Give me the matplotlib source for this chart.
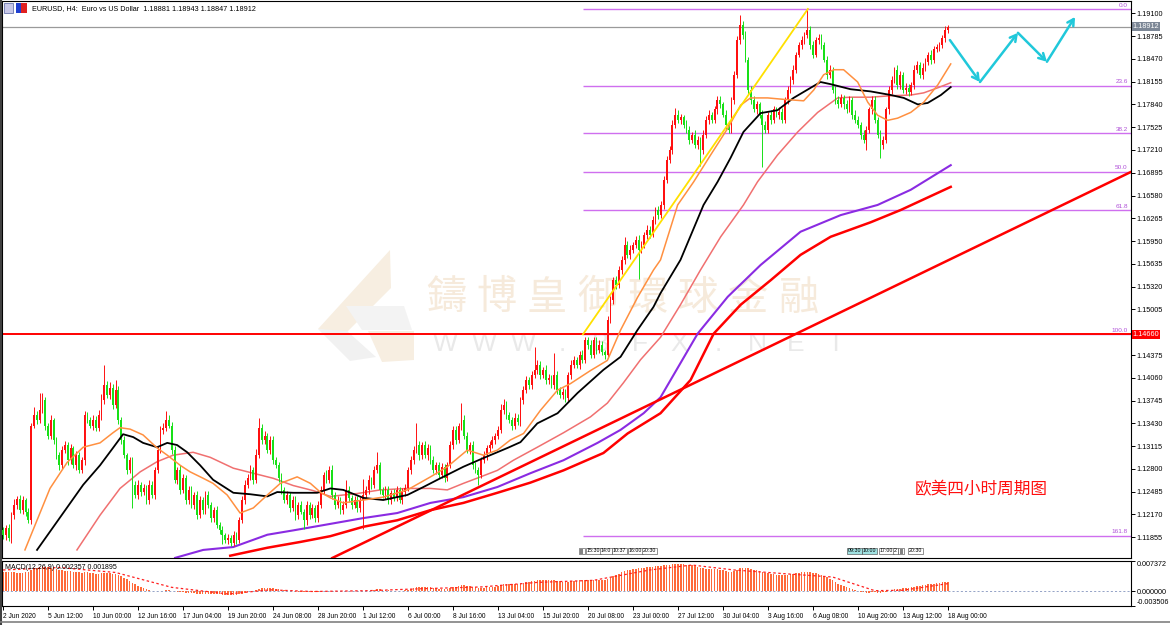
import matplotlib
matplotlib.use("Agg")
import matplotlib.pyplot as plt
import numpy as np
from matplotlib.patches import Polygon, Rectangle

# ---- price data (units of 0.0001 above 1.1000), one value per H4 bar ----
first_open = 195
closes = [
    188, 198, 185, 216, 230, 239, 223, 237, 221, 209,
    340, 354, 348, 362, 375, 340, 326, 348, 320, 299,
    285, 306, 313, 292, 309, 285, 299, 279, 292, 354,
    348, 340, 348, 337, 354, 375, 396, 382, 392, 368,
    389, 348, 320, 299, 279, 292, 258, 244, 258, 248,
    254, 237, 258, 244, 279, 306, 334, 337, 348, 340,
    306, 265, 279, 251, 268, 237, 251, 230, 244, 216,
    237, 223, 244, 230, 212, 223, 202, 196, 188, 182,
    185, 178, 188, 182, 209, 237, 258, 268, 279, 265,
    299, 337, 320, 326, 306, 320, 292, 285, 268, 251,
    237, 244, 226, 237, 216, 230, 221, 209, 230, 216,
    226, 212, 230, 251, 272, 265, 279, 244, 230, 237,
    223, 230, 251, 240, 230, 237, 226, 237, 244, 251,
    265, 258, 279, 285, 251, 244, 251, 237, 247, 240,
    251, 237, 248, 254, 279, 292, 306, 313, 299, 313,
    299, 309, 292, 279, 285, 272, 282, 268, 285, 313,
    334, 320, 340, 348, 326, 306, 313, 285, 279, 272,
    292, 299, 309, 313, 320, 326, 334, 362, 368, 354,
    348, 340, 351, 345, 375, 389, 403, 396, 410, 417,
    424, 410, 417, 403, 406, 396, 410, 389, 382, 386,
    378, 410, 424, 431, 424, 438, 431, 458, 452, 438,
    458, 445, 452, 441, 438, 486, 514, 541, 534, 555,
    569, 590, 576, 583, 590, 597, 583, 590, 604, 611,
    604, 624, 638, 631, 645, 680, 707, 721, 756, 770,
    763, 766, 756, 749, 735, 742, 728, 735, 721, 742,
    763, 770, 763, 777, 790, 784, 770, 756, 749, 790,
    825, 873, 894, 880, 846, 804, 790, 777, 784, 770,
    756, 749, 770, 763, 777, 770, 774, 763, 790, 804,
    818, 832, 853, 866, 873, 880, 887, 866, 853, 873,
    876, 866, 846, 825, 832, 804, 790, 784, 793, 784,
    777, 790, 770, 763, 756, 742, 735, 749, 777, 790,
    763, 742, 728, 735, 777, 804, 818, 832, 811, 825,
    804, 807, 801, 811, 832, 839, 825, 835, 843, 853,
    846, 860, 863, 866, 876, 887, 891,
]
# wick lengths in pips
up_wick = [
    5, 4, 6, 5, 8, 4, 5, 6, 3, 5, 4, 12, 6, 23, 10, 5, 4, 6, 3, 4,
    4, 5, 6, 4, 5, 3, 6, 4, 5, 6, 5, 4, 6, 5, 7, 8, 28, 6, 8, 5,
    14, 5, 4, 6, 3, 5, 4, 5, 6, 4, 5, 4, 6, 5, 4, 6, 5, 7, 12, 6,
    5, 6, 4, 7, 5, 4, 6, 5, 4, 6, 5, 4, 6, 5, 4, 5, 6, 4, 5, 4,
    5, 4, 6, 5, 4, 6, 7, 5, 6, 4, 8, 14, 5, 6, 4, 5, 6, 4, 5, 6,
    4, 5, 4, 6, 5, 4, 5, 3, 6, 4, 5, 4, 6, 5, 4, 6, 5, 7, 4, 5,
    4, 6, 14, 5, 4, 6, 5, 4, 22, 5, 6, 4, 5, 18, 5, 4, 6, 5, 4, 5,
    5, 4, 6, 5, 4, 6, 5, 30, 5, 4, 6, 5, 4, 6, 5, 4, 6, 5, 4, 6,
    5, 6, 4, 23, 6, 5, 4, 6, 5, 4, 5, 6, 4, 5, 6, 4, 5, 8, 8, 6,
    5, 4, 6, 5, 4, 5, 6, 4, 5, 32, 6, 5, 4, 6, 5, 4, 30, 5, 4, 6,
    5, 4, 6, 5, 4, 5, 6, 4, 5, 6, 5, 4, 6, 5, 4, 6, 5, 4, 6, 5,
    6, 11, 5, 6, 4, 5, 6, 5, 4, 6, 5, 6, 4, 5, 6, 5, 6, 5, 7, 9,
    6, 5, 4, 6, 5, 4, 6, 5, 4, 6, 5, 6, 4, 5, 6, 5, 4, 6, 5, 4,
    5, 6, 14, 5, 6, 4, 5, 6, 5, 4, 6, 5, 4, 6, 5, 4, 6, 5, 4, 6,
    5, 6, 4, 5, 6, 4, 28, 5, 6, 4, 5, 6, 4, 5, 6, 4, 5, 6, 5, 4,
    6, 5, 4, 6, 5, 4, 6, 5, 4, 6, 5, 4, 6, 5, 4, 6, 5, 4, 6, 5,
    4, 6, 5, 4, 6, 5, 4, 6, 5, 4, 6, 5, 4, 5, 4, 5, 3,
]
dn_wick = [
    5, 6, 4, 7, 5, 6, 4, 5, 6, 4, 5, 4, 6, 5, 4, 6, 5, 4, 6, 5,
    6, 5, 4, 6, 5, 4, 6, 5, 4, 6, 5, 4, 6, 5, 4, 6, 5, 4, 6, 5,
    4, 6, 5, 4, 6, 5, 32, 4, 6, 5, 4, 6, 5, 4, 6, 5, 4, 6, 5, 4,
    5, 4, 6, 5, 4, 6, 5, 4, 6, 5, 4, 6, 5, 4, 6, 5, 4, 6, 12, 5,
    6, 5, 4, 6, 5, 4, 6, 5, 4, 6, 5, 4, 6, 5, 4, 6, 5, 4, 6, 5,
    4, 6, 5, 4, 6, 5, 4, 12, 6, 5, 4, 6, 5, 4, 6, 5, 4, 6, 5, 4,
    6, 5, 4, 6, 5, 4, 6, 5, 40, 4, 5, 6, 4, 5, 6, 4, 5, 6, 5, 4,
    5, 4, 6, 5, 4, 6, 5, 4, 6, 5, 4, 6, 5, 4, 6, 5, 4, 6, 5, 4,
    6, 5, 4, 6, 5, 4, 6, 5, 4, 14, 5, 4, 6, 5, 4, 6, 5, 4, 6, 5,
    4, 6, 5, 4, 6, 5, 4, 6, 5, 4, 6, 5, 4, 6, 5, 4, 6, 5, 4, 6,
    5, 4, 6, 5, 4, 6, 5, 4, 6, 5, 4, 6, 5, 4, 6, 5, 4, 6, 5, 4,
    6, 5, 4, 6, 5, 4, 40, 5, 4, 6, 5, 4, 6, 5, 4, 6, 5, 4, 6, 5,
    4, 6, 5, 4, 6, 5, 4, 6, 22, 5, 4, 6, 5, 4, 6, 5, 4, 6, 5, 4,
    5, 4, 6, 5, 4, 6, 5, 4, 6, 5, 58, 5, 4, 6, 5, 4, 6, 5, 4, 6,
    4, 6, 5, 4, 6, 5, 4, 6, 5, 4, 6, 5, 4, 6, 5, 4, 6, 5, 4, 6,
    5, 4, 6, 5, 4, 6, 5, 14, 4, 6, 5, 4, 18, 5, 4, 6, 5, 4, 6, 5,
    4, 6, 5, 4, 6, 5, 4, 6, 5, 4, 6, 5, 4, 5, 4, 5, 4,
]

# moving averages: (bar, pips above 1.1000)
ma_black_x = [12.1, 28.5, 34.5, 39.1, 42.7, 46.3, 49.8, 54.8, 58.4, 61.9, 65.5, 70.1, 74.7, 81.9, 87.9,
              94.0, 97.5, 103.2, 111.7, 116.4, 121.0, 128.1, 135.2, 143.8, 149.5, 155.5, 163.7, 170.8,
              179.4, 184.0, 190.0, 197.2, 204.3, 213.5, 219.6, 225.6, 231.3, 233.8, 240.9, 249.1, 254.1,
              258.7, 263.3, 269.4, 275.4, 281.1, 287.2, 290.7, 294.3, 301.4, 308.5, 315.7, 320.3, 325.3,
              328.8, 333.5, 337.0]
ma_black_y = [168, 258, 285, 309, 328, 324, 316, 310, 316, 313, 303, 285, 265, 247, 245,
              242, 248, 247, 247, 253, 251, 240, 237, 244, 255, 267, 283, 295,
              309, 317, 343, 357, 385, 417, 435, 472, 504, 523, 569, 645, 677,
              710, 746, 772, 776, 793, 807, 815, 812, 805, 802, 797, 793, 784,
              786, 797, 808]
ma_orange_x = [7.8, 16.7, 22.8, 28.5, 34.5, 39.1, 41.6, 45.2, 49.8, 54.8, 58.4, 63.0, 66.5, 71.2, 74.7,
               79.7, 84.3, 89.0, 94.0, 98.6, 104.6, 109.3, 112.8, 116.4, 121.0, 128.1, 135.2, 143.8,
               152.0, 158.0, 165.1, 170.8, 175.8, 180.4, 185.1, 191.1, 197.2, 201.8, 208.9, 214.9,
               219.6, 225.6, 231.3, 233.8, 239.9, 245.6, 251.6, 257.7, 262.3, 265.8, 271.9, 277.6,
               284.7, 288.3, 291.8, 295.4, 298.9, 303.9, 307.5, 311.0, 314.6, 318.1, 322.8, 327.4,
               332.4, 337.0]
ma_orange_y = [168, 253, 289, 310, 316, 330, 337, 335, 327, 309, 299, 285, 276, 267, 260,
               244, 219, 226, 244, 260, 269, 260, 248, 240, 233, 237, 241, 251,
               269, 283, 306, 299, 306, 320, 329, 361, 389, 398, 416, 430,
               472, 517, 555, 569, 645, 677, 714, 751, 783, 793, 793, 791,
               789, 804, 825, 832, 832, 815, 787, 769, 762, 765, 773, 787,
               811, 840]
ma_salmon_x = [26.3, 34.5, 41.6, 48.8, 54.8, 60.5, 67.6, 73.7, 81.9, 89.0, 96.1, 103.2, 110.3, 116.4,
               126.0, 134.2, 143.8, 152.0, 158.0, 163.7, 169.8, 175.8, 181.5, 190.0, 199.3, 208.9,
               214.9, 220.6, 226.7, 233.8, 240.9, 248.0, 255.2, 263.3, 268.3, 275.4, 282.6, 289.7,
               296.8, 301.4, 308.5, 315.7, 322.8, 327.4, 332.4, 337.0]
ma_salmon_y = [168, 216, 253, 276, 290, 299, 303, 296, 281, 274, 267, 257, 250, 242,
               246, 251, 253, 253, 251, 260, 269, 278, 292, 310, 330, 352,
               371, 399, 431, 462, 507, 555, 601, 645, 677, 714, 746, 773,
               793, 794, 794, 796, 797, 800, 807, 814]
ma_purple_x = [61.2, 71.2, 81.9, 94.0, 103.2, 116.4, 128.1, 140.2, 152.0, 163.7, 175.8, 187.5, 199.3,
               211.4, 219.6, 227.8, 233.8, 247.0, 257.7, 269.4, 283.6, 297.9, 311.0, 322.8, 337.0]
ma_purple_y = [157, 168, 172, 189, 195, 204, 212, 219, 233, 241, 255, 274, 292,
               316, 334, 357, 379, 467, 518, 562, 608, 631, 645, 666, 700]
ma_red_x = [80.8, 94.0, 105.7, 116.4, 128.1, 140.2, 152.0, 163.7, 175.8, 187.5, 199.3, 213.5, 222.1,
            233.8, 244.5, 252.7, 262.3, 273.0, 283.6, 294.3, 308.5, 319.2, 337.0]
ma_red_y = [160, 171, 179, 187, 200, 209, 223, 233, 247, 261, 278, 302, 329,
            357, 403, 467, 507, 541, 576, 601, 621, 638, 670]

# MACD main values (units of 0.0001), one per bar
macd = [
    48, 47, 47, 46, 46, 45, 45, 45, 46, 47, 52, 56, 58, 60, 61, 60, 59, 58, 57, 55,
    53, 51, 50, 50, 49, 48, 47, 46, 44, 46, 46, 45, 44, 43, 43, 44, 45, 45, 44, 43,
    42, 40, 37, 33, 29, 25, 21, 17, 14, 11, 8, 6, 4, 2, 1, 1, 1, 2, 3, 3,
    2, 0, -1, -2, -2, -3, -3, -4, -4, -5, -5, -5, -5, -6, -6, -6, -7, -7, -8, -8,
    -8, -8, -8, -8, -7, -5, -3, -1, 1, 2, 4, 6, 8, 9, 9, 9, 8, 7, 6, 4,
    3, 2, 1, 0, -1, -1, -2, -2, -2, -2, -2, -2, -1, 0, 1, 2, 2, 2, 2, 1,
    1, 1, 2, 2, 2, 1, 1, 1, 1, 1, 2, 3, 4, 5, 5, 4, 3, 3, 2, 2,
    2, 2, 2, 3, 4, 6, 8, 10, 10, 10, 10, 10, 10, 9, 8, 7, 7, 6, 7, 8,
    10, 12, 13, 15, 15, 14, 13, 11, 10, 9, 9, 9, 10, 10, 11, 12, 13, 15, 17, 18,
    18, 18, 18, 18, 19, 20, 22, 24, 25, 26, 27, 28, 28, 28, 28, 27, 27, 26, 25, 24,
    24, 24, 25, 26, 26, 27, 27, 28, 28, 28, 28, 28, 28, 28, 28, 30, 33, 37, 40, 43,
    46, 49, 51, 53, 54, 55, 56, 57, 58, 59, 60, 60, 61, 61, 62, 63, 64, 65, 66, 67,
    67, 67, 66, 65, 64, 63, 61, 59, 57, 56, 55, 55, 54, 54, 54, 53, 52, 50, 48, 48,
    50, 53, 56, 58, 58, 57, 55, 53, 51, 49, 47, 45, 44, 43, 42, 41, 40, 40, 40, 41,
    42, 43, 44, 45, 46, 47, 47, 46, 45, 44, 43, 41, 38, 35, 31, 27, 23, 19, 16, 13,
    10, 8, 5, 3, 1, -1, -2, -3, -3, -2, -2, -3, -3, -2, -1, 1, 3, 5, 6, 7,
    8, 9, 9, 10, 11, 13, 14, 15, 16, 17, 18, 19, 20, 21, 22, 23, 24,
]
signal_x = [0, 20, 40, 60, 80, 95, 110, 130, 150, 170, 190, 210, 230, 245, 260, 280, 295, 310, 320, 336]
signal_y = [52, 58, 46, 10, -6, 4, 0, 2, 7, 11, 22, 27, 52, 64, 52, 42, 35, 2, 3, 19]

fib_ratios = [0.0, 23.6, 38.2, 50.0, 61.8, 100.0, 161.8]
fib_high = 1.1916
fib_low = 1.1466
fib_start_bar = 206.2
fib_end_bar = 286.2
trend_pts = [(123.4, 1.11687), (401.1, 1.16907)]
forecast_x = [336.7, 347.4, 360.9, 371.2, 381.2]
forecast_y = [1.1873, 1.1815, 1.1883, 1.1843, 1.1905]
last_price = 1.18912
level_price = 1.14660

price_ticks = [1.19100, 1.18785, 1.18470, 1.18155, 1.17840, 1.17525, 1.17210, 1.16895, 1.16580,
               1.16265, 1.15950, 1.15635, 1.15320, 1.15005, 1.14375, 1.14060, 1.13745, 1.13430,
               1.13115, 1.12800, 1.12485, 1.12170, 1.11855]
date_labels = ["2 Jun 2020", "5 Jun 12:00", "10 Jun 00:00", "12 Jun 16:00", "17 Jun 04:00",
               "19 Jun 20:00", "24 Jun 08:00", "28 Jun 20:00", "1 Jul 12:00", "6 Jul 00:00",
               "8 Jul 16:00", "13 Jul 04:00", "15 Jul 20:00", "20 Jul 08:00", "23 Jul 00:00",
               "27 Jul 12:00", "30 Jul 04:00", "3 Aug 16:00", "6 Aug 08:00", "10 Aug 20:00",
               "13 Aug 12:00", "18 Aug 00:00"]
date_step = 16

W, H = 1170, 625
BULL = "#FF1010"
BEAR = "#18E018"
FONT = "Liberation Sans"


def P(x, y):
    return x / W, 1 - y / H


def main():
    c = 1.1 + np.array(closes) / 1e4
    o = np.r_[1.1 + first_open / 1e4, c[:-1]]
    hi = np.maximum(o, c) + np.array(up_wick) / 1e4
    lo = np.minimum(o, c) - np.array(dn_wick) / 1e4
    bars = np.arange(len(c))

    fig = plt.figure(figsize=(W / 100, H / 100), dpi=100)
    fig.patch.set_facecolor("white")
    ax = fig.add_axes([2 / W, 1 - 558 / H, 1129 / W, 557 / H])
    axm = fig.add_axes([2 / W, 1 - 606 / H, 1129 / W, 45 / H])

    xmin, xmax = -0.36, 401.1
    ax.set_xlim(xmin, xmax)
    ax.set_ylim(1.191 - (558 - 13.3) / 7232, 1.191 + 12.3 / 7232)

    # watermark (behind everything)
    tr = fig.transFigure
    logo = [
        ([(390, 250), (391, 288), (346, 333), (318, 329)], "#F7EEE1"),
        ([(318, 329), (347, 331), (376, 357), (350, 361)], "#F1F1F1"),
        ([(346, 306), (404, 306), (412, 330), (362, 330)], "#F3F3F3"),
        ([(368, 331), (414, 331), (414, 360), (382, 362)], "#F7EEE1"),
    ]
    for pts, col in logo:
        ax.add_patch(Polygon([P(*p) for p in pts], closed=True, transform=tr, color=col, lw=0, zorder=0.2))
    for k, ch in enumerate("鑄博皇御環球金融"):
        ax.text(*P(446 + k * 50.4, 298), ch, transform=tr, fontsize=29, color="#F6EADB",
                family=["Noto Sans CJK TC"], ha="center", va="center", zorder=0.3)
    for k, ch in enumerate("WWW.BFX.NET"):
        ax.text(*P(445 + k * 39, 344), ch, transform=tr, fontsize=19, color="#E9E9E9",
                family=[FONT], ha="center", va="center", zorder=0.3)

    # fibonacci levels
    rng = fib_high - fib_low
    for r in fib_ratios:
        lvl = fib_high - r / 100 * rng
        ax.hlines(lvl, fib_start_bar, xmax, color="#CF6FEF", lw=1.0, zorder=1)
        ax.text(xmax - 1.2, lvl + 0.0002, f"{r:.1f}", fontsize=4.6, color="#B050D8",
                ha="right", va="bottom", family=[FONT], zorder=2)

    ax.axhline(last_price, color="#9A9A9A", lw=0.9, zorder=1)
    ax.axhline(level_price, color="#FF0000", lw=1.4, zorder=2)

    # moving averages
    ax.plot(ma_red_x, 1.1 + np.array(ma_red_y) / 1e4, color="#FF0000", lw=1.8, zorder=2)
    ax.plot(ma_purple_x, 1.1 + np.array(ma_purple_y) / 1e4, color="#8A2BE2", lw=1.5, zorder=2)
    ax.plot(ma_salmon_x, 1.1 + np.array(ma_salmon_y) / 1e4, color="#F07070", lw=1.1, zorder=2)
    ax.plot(ma_black_x, 1.1 + np.array(ma_black_y) / 1e4, color="#000000", lw=1.3, zorder=4)
    ax.plot(ma_orange_x, 1.1 + np.array(ma_orange_y) / 1e4, color="#FF9040", lw=1.1, zorder=4)

    # trend lines
    ax.axline(trend_pts[0], trend_pts[1], color="#FF0000", lw=1.8, zorder=2)
    ax.plot([fib_start_bar, fib_end_bar], [fib_low, fib_high], color="#FFE000", lw=1.3, zorder=4)

    # candles
    up = c >= o
    for mask, col in ((up, BULL), (~up, BEAR)):
        ax.vlines(bars[mask], lo[mask], hi[mask], color=col, lw=0.7, zorder=3)
        body = np.maximum(np.abs(c - o), 0.00006)
        ax.bar(bars[mask], body[mask], bottom=np.minimum(o, c)[mask], width=0.62,
               color=col, lw=0, zorder=3)

    # forecast arrows
    for k in range(len(forecast_x) - 1):
        ax.annotate("", xy=(forecast_x[k + 1], forecast_y[k + 1]), xytext=(forecast_x[k], forecast_y[k]),
                    arrowprops=dict(arrowstyle="->,head_length=0.45,head_width=0.25",
                                    color="#20C8DA", lw=1.8, shrinkA=0, shrinkB=0), zorder=5)

    ax.text(*P(915, 490), "欧美四小时周期图", transform=tr, fontsize=12, color="#FF1010",
            family=["Noto Sans CJK SC"], va="center", ha="left", zorder=5)

    # price axis
    ax.yaxis.tick_right()
    ax.set_yticks(price_ticks)
    ax.set_yticklabels([f"{t:.5f}" for t in price_ticks])
    ax.tick_params(axis="y", length=3, width=0.7, pad=1, labelsize=5.2, colors="black")
    for lab in ax.get_yticklabels():
        lab.set_family(FONT)
    ax.set_xticks([])
    for sp in ax.spines.values():
        sp.set_linewidth(0.8)
    ax.text(1.0015, last_price, "1.18912", transform=ax.get_yaxis_transform(), fontsize=5.2,
            color="white", va="center", ha="left", family=[FONT], zorder=6,
            bbox=dict(boxstyle="square,pad=0.15", fc="#7C8796", ec="none"))
    ax.text(1.0015, level_price, "1.14660", transform=ax.get_yaxis_transform(), fontsize=5.2,
            color="white", va="center", ha="left", family=[FONT], zorder=6,
            bbox=dict(boxstyle="square,pad=0.15", fc="#FF0000", ec="none"))

    # event markers at bottom of main panel
    events = [(580, "|||", None), (587, "15:30", None), (601, "14:0", None), (613, "10:37", None),
              (629, "16:00", None), (643, "20:30", None), (848, "09:30", "#9FE0E0"),
              (863, "10:00", "#9FE0E0"), (880, "17:00", None), (894, "2", None), (899, "|||", None),
              (909, "20:30", None)]
    for x, s, bg in events:
        ax.text(*P(x, 551), s, transform=tr, fontsize=3.8, family=[FONT], va="center", ha="left",
                zorder=6, bbox=dict(boxstyle="square,pad=0.15", fc=bg or "white", ec="#404040", lw=0.4))

    # MACD panel
    axm.set_xlim(xmin, xmax)
    axm.set_ylim(-0.003506, 0.007372)
    mv = np.array(macd) / 1e4
    axm.bar(bars, mv, width=0.55, color="#FF6A3A", lw=0, zorder=2)
    axm.plot(signal_x, np.array(signal_y) / 1e4, color="#FF2020", lw=0.9, ls=(0, (2, 2)), zorder=3)
    axm.axhline(0, color="#6A7FB0", lw=0.5, ls=(0, (3, 3)), zorder=1)
    axm.yaxis.tick_right()
    axm.set_yticks([0.007372, 0.0, -0.003506])
    axm.set_yticklabels(["0.007372", "0.000000", "-0.003506"])
    axm.tick_params(axis="y", length=3, width=0.7, pad=1, labelsize=5.2)
    ylabs = axm.get_yticklabels()
    ylabs[0].set_va("top")
    ylabs[2].set_va("bottom")
    for lab in ylabs:
        lab.set_family(FONT)
    axm.set_xticks(bars[::date_step][:len(date_labels)])
    axm.set_xticklabels(date_labels)
    axm.tick_params(axis="x", length=3, width=0.7, pad=2, labelsize=4.8, direction="out")
    for lab in axm.get_xticklabels():
        lab.set_ha("left")
        lab.set_family(FONT)
    for sp in axm.spines.values():
        sp.set_linewidth(0.8)
    axm.text(0.003, 0.93, "MACD(12,26,9) 0.002357 0.001895", transform=axm.transAxes,
             fontsize=5, va="top", ha="left", family=[FONT], zorder=6)

    # header and window frame
    fig.text(*P(32, 9), "EURUSD, H4:  Euro vs US Dollar  1.18881 1.18943 1.18847 1.18912",
             fontsize=5.2, va="center", ha="left", family=[FONT])
    fig.add_artist(Rectangle(P(4, 13), 9 / W, 10 / H, transform=tr, fc="#C8C8E8", ec="#5060A0", lw=0.5))
    fig.add_artist(Rectangle(P(16, 13), 5 / W, 10 / H, transform=tr, fc="#2040D0", ec="none"))
    fig.add_artist(Rectangle(P(21, 13), 6 / W, 10 / H, transform=tr, fc="#E02020", ec="none"))
    fig.add_artist(plt.Line2D([0.5 / W, 0.5 / W], [0, 1], transform=tr, color="#404040", lw=1.5))
    fig.add_artist(plt.Line2D([0, 1], [1 - 622 / H, 1 - 622 / H], transform=tr, color="#808080", lw=1.2))

    fig.savefig("out.png", dpi=100, facecolor="white")


if __name__ == "__main__":
    main()
